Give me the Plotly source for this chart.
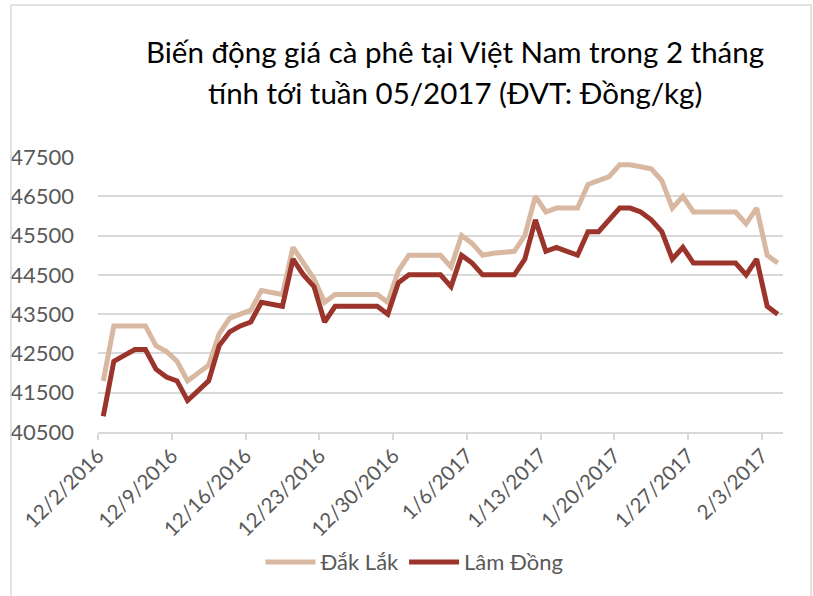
import pandas as pd
import plotly.graph_objects as go

# ===== data =====
dates = pd.date_range("2016-12-02", "2017-02-04", freq="D")

dak_lak = [
    41800, 43200, 43200, 43200, 43200, 42700, 42550, 42300, 41800, 42000,
    42200, 43000, 43400, 43500, 43600, 44100, 44050, 44000, 45200, 44800,
    44400, 43800, 44000, 44000, 44000, 44000, 44000, 43800, 44600, 45000,
    45000, 45000, 45000, 44700, 45500, 45300, 45000, 45050, 45080, 45100,
    45500, 46500, 46100, 46200, 46200, 46200, 46800, 46900, 47000, 47300,
    47300, 47250, 47200, 46900, 46200, 46500, 46100, 46100, 46100, 46100,
    46100, 45800, 46200, 45000, 44800,
]
lam_dong = [
    40900, 42300, 42450, 42600, 42600, 42100, 41900, 41800, 41300, 41550,
    41800, 42700, 43050, 43200, 43300, 43800, 43750, 43700, 44900, 44500,
    44200, 43300, 43700, 43700, 43700, 43700, 43700, 43500, 44300, 44500,
    44500, 44500, 44500, 44200, 45000, 44800, 44500, 44500, 44500, 44500,
    44900, 45900, 45100, 45200, 45100, 45000, 45600, 45600, 45900, 46200,
    46200, 46100, 45900, 45600, 44900, 45200, 44800, 44800, 44800, 44800,
    44800, 44500, 44900, 43700, 43500,
]

tick_dates = pd.date_range("2016-12-02", "2017-02-03", freq="7D")
tick_labels = [f"{d.month}/{d.day}/{d.year}" for d in tick_dates]

series_names = ["Đắk Lắk", "Lâm Đồng"]
colors = ["#d8b8a1", "#9b352b"]

title_lines = [
    "Biến động giá cà phê tại Việt Nam trong 2 tháng",
    "tính tới tuần 05/2017 (ĐVT: Đồng/kg)",
]

# ===== figure =====
FONT = "Lato"
GRID = "#d9d9d9"
TXT = "#595959"

fig = go.Figure()
for name, values, color in zip(series_names, [dak_lak, lam_dong], colors):
    fig.add_trace(
        go.Scatter(
            x=dates, y=values,
            mode="lines",
            line=dict(color=color, width=5),
            name=name,
            xperiod=86400000,
            xperiodalignment="middle",
        )
    )

# title as two centred lines
for text, ypos in zip(title_lines, [1.382, 1.233]):
    fig.add_annotation(
        text=text, xref="paper", yref="paper", x=0.521, y=ypos,
        showarrow=False, xanchor="center", yanchor="middle",
        font=dict(family=FONT, size=29.5, color="#000000"),
    )

# outer chart border
fig.add_shape(
    type="rect", xref="paper", yref="paper",
    x0=-0.127, x1=1.041, y0=-0.62, y1=1.553,
    line=dict(color=GRID, width=1.5),
)

fig.update_layout(
    width=813, height=596,
    margin=dict(l=98, r=30, t=157, b=164, autoexpand=False),
    paper_bgcolor="white",
    plot_bgcolor="white",
    font=dict(family=FONT, size=22, color=TXT),
    showlegend=True,
    legend=dict(
        orientation="h",
        x=0.462, xanchor="center",
        y=-0.473, yanchor="middle",
        font=dict(family=FONT, size=22, color=TXT),
        itemwidth=50,
        tracegroupgap=20,
    ),
)
fig.update_xaxes(
    type="date",
    automargin=False,
    range=["2016-12-02", "2017-02-05"],
    tickvals=tick_dates, ticktext=tick_labels,
    tickangle=-45,
    showgrid=False,
    showline=True, linecolor=GRID, linewidth=1.5,
    ticks="outside", ticklen=6, tickcolor=GRID, tickwidth=1.5,
    ticklabelstandoff=-4,
    tickfont=dict(family=FONT, size=20.5, color=TXT),
)
fig.update_yaxes(
    automargin=False,
    range=[40500, 47500],
    tick0=40500, dtick=1000,
    showgrid=True, gridcolor=GRID, gridwidth=1.5,
    zeroline=False,
    showline=False,
    ticks="", ticklabelstandoff=23,
    tickformat="d",
    tickfont=dict(family=FONT, size=22, color=TXT),
)

# drop the default page margin so the figure sits at the window's corner
fig.write_html(
    "out.html",
    config={"displayModeBar": False},
    post_script="document.body.style.margin='0';",
)
